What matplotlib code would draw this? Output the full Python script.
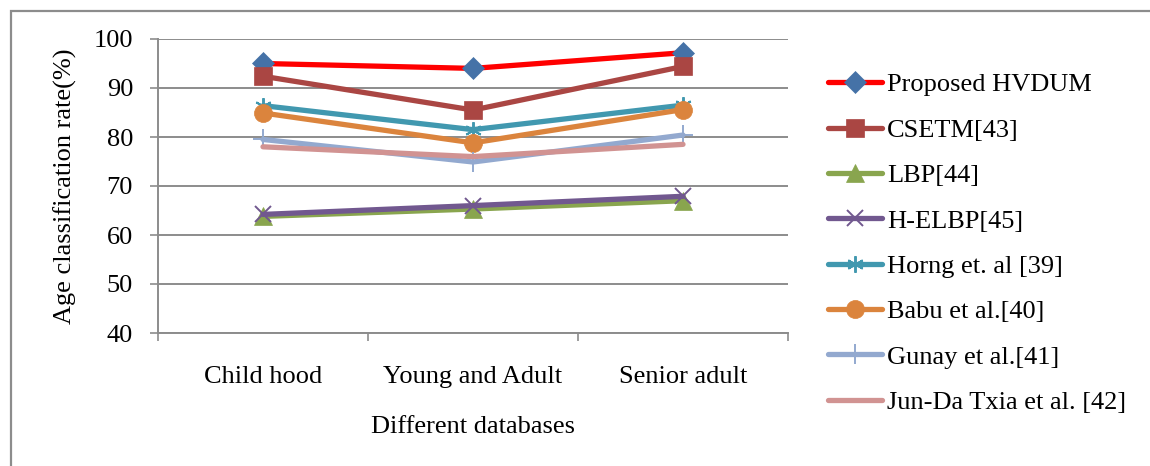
import matplotlib
matplotlib.use("Agg")
import matplotlib.pyplot as plt
from matplotlib.patches import Rectangle

plt.rcParams['font.family'] = ['Liberation Serif', 'DejaVu Serif']

categories = ["Child hood", "Young and Adult", "Senior adult"]
series_names = [
    "Proposed HVDUM", "CSETM[43]", "LBP[44]", "H-ELBP[45]",
    "Horng et. al [39]", "Babu et al.[40]", "Gunay et al.[41]",
    "Jun-Da Txia et al. [42]",
]
proposed_hvdum = [95.0, 94.0, 97.2]
csetm = [92.4, 85.5, 94.4]
lbp = [63.8, 65.3, 67.0]
h_elbp = [64.2, 66.0, 67.9]
horng = [86.4, 81.5, 86.5]
babu = [84.9, 78.8, 85.6]
gunay = [79.5, 74.9, 80.4]
jun_da = [78.0, 76.0, 78.5]
y_ticks = [40, 50, 60, 70, 80, 90, 100]

values = [proposed_hvdum, csetm, lbp, h_elbp, horng, babu, gunay, jun_da]
line_colors = ["#FF0000", "#AA4643", "#89A54E", "#71588F",
               "#4198AF", "#DB843D", "#93A9CF", "#D19392"]
marker_faces = ["#4572A7", "#AA4643", "#89A54E", "#71588F",
                "#4198AF", "#DB843D", "#93A9CF", "#D19392"]
markers = ["D", "s", "^", "x", (6, 2, 0), "o", "+", None]
marker_sizes = [11, 13, 13, 11, 12, 13, 14, 0]

FS = 19
GREY = "#8C8C8C"

fig = plt.figure(figsize=(11.5, 4.66), dpi=100)
# outer chart frame (only the top and left edges fall inside the image)
fig.patches.append(Rectangle((11 / 1150, -0.1), 1.2, 1.1 - 10.5 / 466,
                             transform=fig.transFigure, fill=False,
                             edgecolor=GREY, linewidth=1.6))
ax = fig.add_axes([158 / 1150, 1 - 333 / 466, 630 / 1150, 294 / 466])

x = list(range(len(categories)))
handles = []
for name, vals, lc, mf, mk, ms in zip(series_names, values, line_colors,
                                      marker_faces, markers, marker_sizes):
    kw = dict(color=lc, linewidth=3.8, solid_capstyle="round", zorder=3)
    if mk is not None:
        thin = mk in ("x", "+") or isinstance(mk, tuple)
        kw.update(marker=mk, markersize=ms, markerfacecolor=mf,
                  markeredgecolor=mf, markeredgewidth=1.4 if thin else 0.5)
    line, = ax.plot(x, vals, label=name, **kw)
    handles.append(line)

ax.set_xlim(-0.5, len(categories) - 0.5)
ax.set_ylim(40, 100)
ax.set_yticks(y_ticks)
ax.set_xticks(x)
ax.set_xticklabels(categories, fontsize=FS)
ax.tick_params(axis="x", length=0, pad=24)
ax.set_xticks([-0.5, 0.5, 1.5, 2.5], minor=True)
ax.tick_params(axis="x", which="minor", length=6, color=GREY, width=1.2)
ax.tick_params(axis="y", labelsize=FS, length=6, color=GREY, width=1.2, pad=12)
ax.grid(axis="y", color=GREY, linewidth=1.4, zorder=0)
for side in ("top", "right"):
    ax.spines[side].set_visible(False)
for side in ("left", "bottom"):
    ax.spines[side].set_color(GREY)
    ax.spines[side].set_linewidth(1.4)
ax.set_ylabel("Age classification rate(%)", fontsize=FS, labelpad=12)
ax.set_xlabel("Different databases", fontsize=FS, labelpad=20)

fig.legend(handles=handles, loc="upper left", bbox_to_anchor=(828 / 1150, 1 - 73 / 466),
           frameon=False, fontsize=FS, labelspacing=0.83, handlelength=2.05,
           handletextpad=0.2, borderaxespad=0, borderpad=0)

fig.savefig("out.png", dpi=100)
